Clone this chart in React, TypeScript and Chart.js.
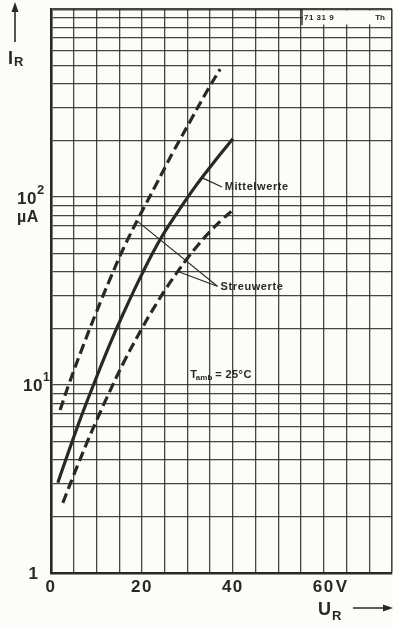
import React, { useEffect, useRef } from "react";
import { Chart, registerables } from "chart.js";

Chart.register(...registerables);

// Reverse current I_R (µA) vs reverse voltage U_R (V), log scale
const upperV = [2, 4, 7, 10, 13, 16, 19.5, 23, 27, 31, 34, 37.2];
const upperI = [7.36, 10.2, 16.0, 24.5, 36.7, 53.7, 79.4, 115, 176, 263, 355, 479];
const meanV = [1.5, 3, 5, 7, 10, 13, 16, 20, 24, 28, 32, 36, 40];
const meanI = [3.02, 3.85, 5.28, 7.16, 11.0, 16.6, 24.3, 38.9, 59.4, 84.1, 116, 155, 204];
const lowerV = [2.6, 5, 8, 10, 12, 16, 20.2, 22.5, 25, 27.5, 30, 32.5, 35, 37.5, 40];
const lowerI = [2.36, 3.32, 5.0, 6.46, 8.28, 13.2, 20.4, 25.4, 31.8, 39.0, 47.2, 56.1, 65.6, 75.3, 85.3];

const yTicks = [
  1, 2, 3, 4, 5, 6, 7, 8, 9,
  10, 20, 30, 40, 50, 60, 70, 80, 90,
  100, 200, 300, 400, 500, 600, 700, 800, 900,
  1000,
];
const xTickLabels = [
  { v: 0, t: "0" },
  { v: 20, t: "20" },
  { v: 40, t: "40" },
  { v: 60, t: "60" },
];

// annotation anchors in data units [V, µA]
const mittelLeader = [[33.4, 126], [37.6, 113]];
const mittelText = [38.2, 113];
const streuLeaderA = [[19.1, 74], [36.6, 33.5]];
const streuLeaderB = [[27.9, 40.2], [36.6, 33.5]];
const streuText = [37.3, 33.2];
const tambText = [30.6, 11.3];

const INK = "#2a2725";
const FONT = '"Liberation Sans", Arial, Helvetica, sans-serif';

export default function App() {
  const ref = useRef<HTMLCanvasElement>(null);

  useEffect(() => {
    const canvas = ref.current;
    if (!canvas) return;

    const toPts = (xs: number[], ys: number[]) => xs.map((x, i) => ({ x, y: ys[i] }));

    const decor = {
      id: "decor",
      beforeDraw(chart: any) {
        const c = chart.ctx;
        c.save();
        c.fillStyle = "#fcfcf8";
        c.fillRect(0, 0, chart.width, chart.height);
        c.restore();
      },
      afterDraw(chart: any) {
        const c: CanvasRenderingContext2D = chart.ctx;
        const xs = chart.scales.x;
        const ys = chart.scales.y;
        const px = (v: number) => xs.getPixelForValue(v);
        const py = (v: number) => ys.getPixelForValue(v);
        const area = chart.chartArea;
        c.save();
        c.fillStyle = INK;
        c.strokeStyle = INK;

        const text = (
          t: string,
          x: number,
          y: number,
          size: number,
          align: CanvasTextAlign = "left",
          weight = "bold",
          spacing = 0
        ) => {
          c.font = `${weight} ${size}px ${FONT}`;
          (c as any).letterSpacing = `${spacing}px`;
          c.textAlign = align;
          c.textBaseline = "middle";
          c.fillText(t, x, y);
          (c as any).letterSpacing = "0px";
        };
        const line = (a: number[], b: number[], w = 1) => {
          c.lineWidth = w;
          c.beginPath();
          c.moveTo(px(a[0]), py(a[1]));
          c.lineTo(px(b[0]), py(b[1]));
          c.stroke();
        };

        // top-right drawing number box
        c.fillStyle = "#fcfcf8";
        c.fillRect(area.right - 89, area.top + 1.5, 88, 14);
        c.fillStyle = INK;
        c.lineWidth = 1.3;
        c.beginPath();
        c.moveTo(area.right - 90, area.top);
        c.lineTo(area.right - 90, area.top + 16);
        c.stroke();
        text("71 31 9", area.right - 88, area.top + 8.5, 8, "left", "bold", 0.5);
        text("Th", area.right - 7, area.top + 8.5, 8, "right", "bold", 0);

        // annotations
        line(mittelLeader[0], mittelLeader[1], 1.2);
        text("Mittelwerte", px(mittelText[0]), py(mittelText[1]), 11, "left", "bold", 0.6);
        line(streuLeaderA[0], streuLeaderA[1], 1.1);
        line(streuLeaderB[0], streuLeaderB[1], 1.1);
        text("Streuwerte", px(streuText[0]), py(streuText[1]), 11, "left", "bold", 0.6);
        {
          const x0 = px(tambText[0]);
          const y0 = py(tambText[1]);
          text("T", x0, y0, 11, "left", "bold");
          c.font = `bold 11px ${FONT}`;
          const wT = c.measureText("T").width;
          text("amb", x0 + wT - 1, y0 + 3, 8, "left", "bold");
          c.font = `bold 8px ${FONT}`;
          const wA = c.measureText("amb").width;
          text("= 25°C", x0 + wT + wA + 2, y0, 11, "left", "bold", 0.4);
        }

        // y tick labels
        text("1", area.left - 13, py(1) + 1, 17, "right", "bold");
        text("10", area.left - 8, py(10) + 1, 17, "right", "bold", 0.5);
        text("1", area.left - 8, py(10) - 7, 12, "left", "bold");
        text("10", area.left - 14, py(100) + 2, 17, "right", "bold", 0.5);
        text("2", area.left - 14, py(100) - 7, 13, "left", "bold");
        text("µA", area.left - 34, py(100) + 21, 16, "left", "bold", 0.5);

        // x tick labels
        for (const t of xTickLabels) {
          text(t.t, px(t.v), area.bottom + 14, 17, "center", "bold", 1.5);
        }
        text("V", px(60) + 12, area.bottom + 14, 17, "left", "bold");

        // axis titles
        text("U", area.right - 74, area.bottom + 37, 18, "left", "bold");
        text("R", area.right - 60, area.bottom + 43, 13, "left", "bold");
        c.lineWidth = 1.5;
        c.beginPath();
        c.moveTo(area.right - 39, area.bottom + 35);
        c.lineTo(area.right - 6, area.bottom + 35);
        c.stroke();
        c.beginPath();
        c.moveTo(area.right + 1, area.bottom + 35);
        c.lineTo(area.right - 9, area.bottom + 31.5);
        c.lineTo(area.right - 9, area.bottom + 38.5);
        c.closePath();
        c.fill();

        text("I", 8, 59, 18, "left", "bold");
        text("R", 14, 62, 13, "left", "bold");
        c.lineWidth = 1.6;
        c.beginPath();
        c.moveTo(15, 42);
        c.lineTo(15, 10);
        c.stroke();
        c.beginPath();
        c.moveTo(15, 2);
        c.lineTo(11.5, 12);
        c.lineTo(18.5, 12);
        c.closePath();
        c.fill();

        c.restore();
      },
    };

    const curve = (data: any[], dashed: boolean) => ({
      data,
      borderColor: INK,
      borderWidth: 3.2,
      borderDash: dashed ? [10, 5] : [],
      pointRadius: 0,
      tension: 0.4,
      fill: false,
    });

    const gridColor = "rgba(45,42,40,0.88)";

    const chart = new Chart(canvas, {
      type: "line",
      data: {
        datasets: [
          curve(toPts(upperV, upperI), true),
          curve(toPts(meanV, meanI), false),
          curve(toPts(lowerV, lowerI), true),
        ],
      },
      options: {
        responsive: false,
        animation: false,
        devicePixelRatio: 1,
        layout: { padding: { left: 51, top: 9, right: 1, bottom: 53 } },
        plugins: { legend: { display: false }, tooltip: { enabled: false } },
        scales: {
          x: {
            type: "linear",
            min: 0,
            max: 75,
            ticks: { display: false, stepSize: 5 },
            grid: {
              color: gridColor,
              lineWidth: (ctx: any) => (ctx.tick && ctx.tick.value === 75 ? 1.6 : 1.3),
              drawTicks: false,
            },
            border: { display: true, color: INK, width: 2.6 },
            afterFit: (s: any) => {
              s.height = 0;
            },
          },
          y: {
            type: "logarithmic",
            min: 1,
            max: 1000,
            afterBuildTicks: (s: any) => {
              s.ticks = yTicks.map((v) => ({ value: v }));
            },
            ticks: { display: false },
            grid: {
              color: gridColor,
              lineWidth: (ctx: any) => (ctx.tick && ctx.tick.value === 1000 ? 2.6 : 1.3),
              drawTicks: false,
            },
            border: { display: true, color: INK, width: 2.6 },
            afterFit: (s: any) => {
              s.width = 0;
            },
          },
        },
      },
      plugins: [decor],
    });

    return () => chart.destroy();
  }, []);

  return (
    <div style={{ position: "fixed", left: 0, top: 0, width: 393, height: 626 }}>
      <canvas ref={ref} width={393} height={626} style={{ display: "block" }} />
    </div>
  );
}
